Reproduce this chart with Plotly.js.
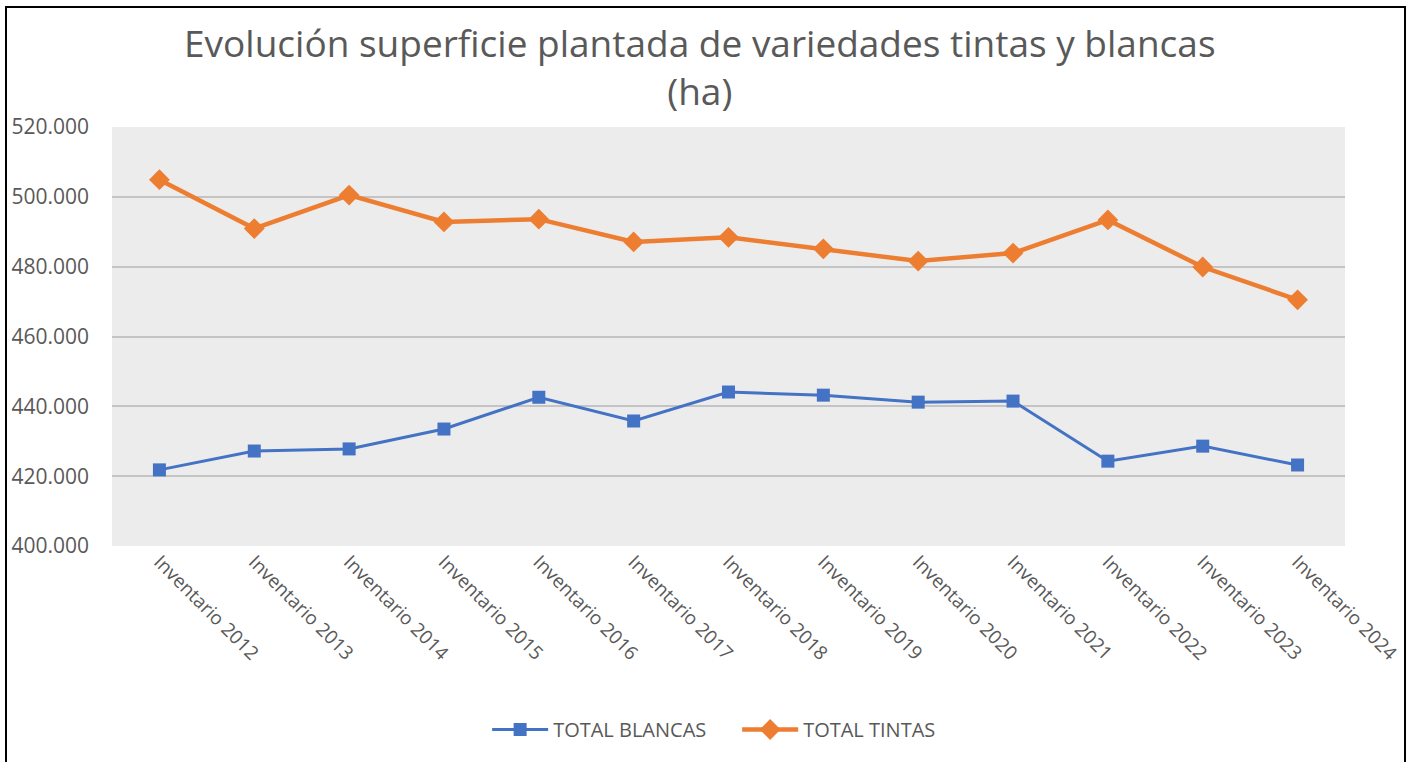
<!DOCTYPE html>
<html>
<head>
<meta charset="utf-8">
<script src="https://cdn.plot.ly/plotly-3.0.1.min.js"></script>
<style>
  html, body { margin: 0; padding: 0; background: #fff; }
  #chart { position: absolute; left: 0; top: 0; width: 1408px; height: 762px; }
  #frame { position: absolute; left: 5px; top: 6px; width: 1397px; height: 800px; border: 2px solid #000; pointer-events: none; }
</style>
</head>
<body>
<div id="chart"></div>
<div id="frame"></div>
<script>
const categories = ["Inventario 2012","Inventario 2013","Inventario 2014","Inventario 2015","Inventario 2016","Inventario 2017","Inventario 2018","Inventario 2019","Inventario 2020","Inventario 2021","Inventario 2022","Inventario 2023","Inventario 2024"];
const totalBlancas = [421800, 427200, 427800, 433500, 442600, 435800, 444100, 443200, 441200, 441500, 424300, 428600, 423200];
const totalTintas = [504900, 490900, 500500, 492800, 493600, 487100, 488400, 485100, 481600, 483900, 493400, 479900, 470500];
const yTicks = [400000, 420000, 440000, 460000, 480000, 500000, 520000];

const textColor = '#595959';
const font = 'Open Sans, Noto Sans, sans-serif';

const traces = [
  {
    x: categories, y: totalBlancas, name: 'TOTAL BLANCAS', type: 'scatter', mode: 'lines+markers',
    line: {color: '#4472c4', width: 3},
    marker: {symbol: 'square', size: 13, color: '#4472c4'}
  },
  {
    x: categories, y: totalTintas, name: 'TOTAL TINTAS', type: 'scatter', mode: 'lines+markers',
    line: {color: '#ed7d31', width: 4.5},
    marker: {symbol: 'diamond', size: 16, color: '#ed7d31'}
  }
];

const layout = {
  width: 1408, height: 762,
  separators: ',.',
  paper_bgcolor: 'rgba(0,0,0,0)',
  plot_bgcolor: '#ececec',
  font: {family: font, color: textColor},
  margin: {l: 112, r: 63, t: 127, b: 216},
  title: {
    text: 'Evolución superficie plantada de variedades tintas y blancas<br>(ha)',
    font: {size: 37, color: textColor, family: font},
    x: 0.497, xanchor: 'center', y: 0.925, yanchor: 'top', yref: 'container'
  },
  xaxis: {
    type: 'category', range: [-0.5, 12.5],
    tickangle: 45, tickfont: {size: 19, color: textColor},
    showgrid: false, zeroline: false, showline: false, ticks: '', ticklen: 0,
    fixedrange: true
  },
  yaxis: {
    range: [400000, 520000], tickvals: yTicks, tickformat: ',d',
    tickfont: {size: 21, color: textColor},
    gridcolor: '#c4c4c4', gridwidth: 2, zeroline: false, showline: false, ticks: '',
    ticklabelstandoff: 22
  },
  showlegend: true,
  legend: {
    orientation: 'h', x: 0.507, xanchor: 'center', y: -0.438, yanchor: 'middle',
    font: {size: 20, color: textColor}, itemwidth: 56,
    entrywidth: 179, entrywidthmode: 'pixels'
  }
};

Plotly.newPlot('chart', traces, layout, {displayModeBar: false, staticPlot: true});
</script>
</body>
</html>
